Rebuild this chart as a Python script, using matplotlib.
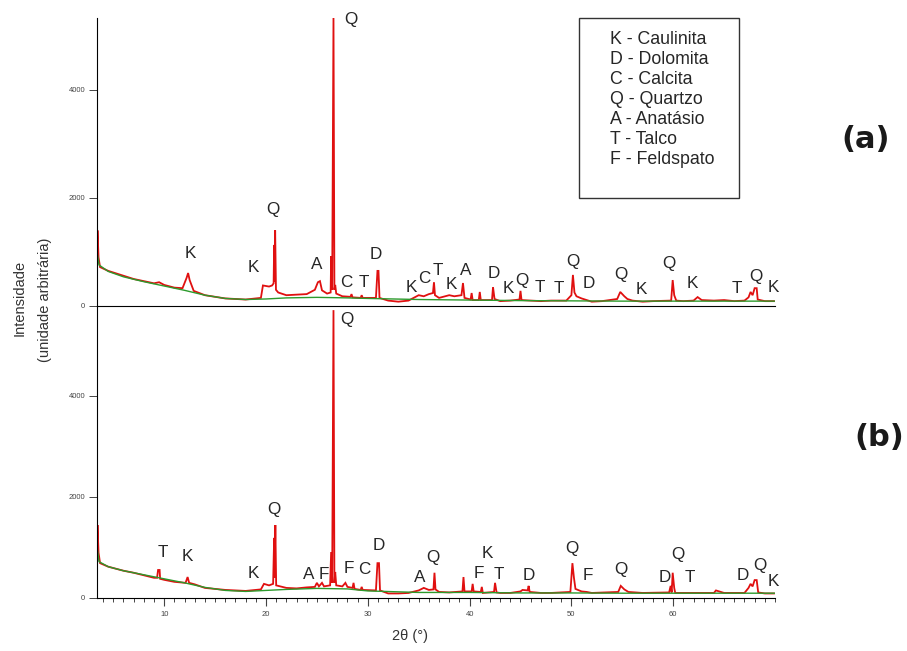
import matplotlib.pyplot as plt
from matplotlib.patches import Rectangle
from matplotlib.ticker import MultipleLocator

plt.rcParams['font.family'] = ['Liberation Sans', 'DejaVu Sans']

# background curve (same 2theta grid for both samples)
bg_theta = [3.4, 3.6, 4.5, 6, 8, 10, 12, 14, 16, 18, 20, 22, 25, 28, 30,
            35, 40, 45, 50, 55, 60, 65, 70]
bg_a = [1000, 760, 640, 540, 450, 370, 290, 200, 140, 120, 130, 150, 160, 150, 140,
        120, 110, 100, 95, 90, 90, 90, 90]
bg_b = [1010, 720, 620, 540, 460, 380, 300, 210, 150, 130, 150, 170, 190, 180, 140,
        110, 110, 100, 100, 95, 95, 95, 95]

# sample (a) diffractogram
theta_a = [3.40, 3.45, 3.55, 3.7, 4.5, 6, 7, 8, 9, 9.5, 10, 11, 11.8, 12.2, 12.35,
           12.5, 12.9, 14, 16, 18, 19.5, 19.7, 20.3, 20.6, 20.75, 20.8, 20.85, 20.9,
           20.98, 21.2, 22, 23, 24, 24.8, 25.1, 25.3, 25.5, 26, 26.35, 26.4, 26.5,
           26.63, 26.72, 26.8, 26.9, 27.5, 28.3, 28.4, 28.5, 29.3, 29.4, 29.5, 30.8,
           30.95, 31.05, 31.15, 32, 33, 34, 34.5, 35, 35.5, 36, 36.4, 36.5, 36.6, 37,
           38, 38.5, 39.2, 39.35, 39.5, 40.1, 40.2, 40.3, 40.9, 41.0, 41.1, 42.2,
           42.3, 42.45, 43, 44, 44.9, 45, 45.1, 46, 47, 48, 49.5, 50.0, 50.15, 50.3,
           50.5, 51, 52, 53, 54.5, 54.8, 55.2, 55.5, 56, 57, 58, 59.8, 59.95, 60.1,
           60.3, 61, 62, 62.4, 62.8, 64, 65, 66, 67, 67.4, 67.6, 67.8, 68.0, 68.2,
           68.3, 69, 69.9]
counts_a = [700, 1400, 900, 720, 650, 560, 500, 460, 420, 440, 390, 340, 330, 520, 610,
            480, 280, 200, 140, 120, 150, 380, 360, 380, 420, 1130, 450, 1400,
            300, 250, 200, 210, 220, 300, 440, 460, 290, 230, 250, 920, 300,
            5330, 300, 390, 230, 180, 170, 220, 160, 150, 200, 150, 150,
            650, 650, 150, 100, 80, 100, 150, 200, 180, 220, 240, 440, 200, 150,
            200, 180, 200, 425, 150, 120, 240, 110, 110, 260, 110, 110,
            350, 130, 90, 100, 120, 280, 110, 100, 90, 100, 100, 200, 575, 250,
            180, 140, 80, 90, 130, 260, 180, 130, 100, 80, 90, 100, 480, 200,
            100, 90, 100, 165, 110, 100, 110, 90, 100, 160, 260, 200, 330, 330,
            120, 90, 90]

# sample (b) diffractogram
theta_b = [3.40, 3.45, 3.55, 3.7, 4.5, 6, 7, 8, 9, 9.3, 9.4, 9.55, 9.6, 10, 11, 12.1,
           12.3, 12.45, 13, 14, 16, 18, 19.5, 19.8, 20.3, 20.7, 20.8, 20.85, 20.92,
           21.0, 22, 23, 24, 24.8, 25, 25.2, 25.5, 25.7, 26.3, 26.4, 26.5, 26.63,
           26.72, 26.8, 26.9, 27.5, 27.8, 28.0, 28.5, 28.6, 28.7, 29.3, 29.4, 29.5,
           30.8, 30.95, 31.1, 31.2, 32, 33, 34, 35, 35.5, 36, 36.45, 36.55, 36.65, 37,
           38, 39.3, 39.4, 39.5, 40.2, 40.3, 40.4, 41.1, 41.2, 41.3, 42.4, 42.5,
           42.65, 43, 44, 45, 45.2, 45.7, 45.8, 45.9, 47, 48, 49.9, 50.1, 50.25,
           50.4, 51, 51.5, 52, 54.6, 54.85, 55.2, 55.6, 57, 59.6, 59.75, 59.85, 59.95,
           60.1, 60.2, 62, 64, 64.2, 65, 67, 67.4, 67.6, 67.8, 68.0, 68.2, 68.35,
           69, 69.9]
counts_b = [700, 1445, 900, 690, 620, 540, 500, 450, 400, 400, 555, 555, 380, 360, 320, 300,
            415, 300, 270, 200, 160, 140, 170, 280, 250, 280, 1190, 400, 1445,
            250, 200, 190, 210, 220, 300, 230, 300, 230, 250, 910, 300, 5700,
            300, 515, 250, 230, 300, 220, 200, 300, 180, 160, 220, 160,
            150, 690, 690, 150, 90, 90, 100, 150, 200, 160, 170, 500, 170, 120,
            110, 130, 415, 130, 130, 280, 130, 120, 220, 100, 120, 300,
            110, 100, 100, 130, 160, 150, 240, 120, 100, 100, 120, 690, 400,
            180, 130, 120, 100, 120, 240, 170, 120, 100, 110, 240, 110, 500,
            200, 100, 100, 100, 150, 100, 100, 200, 280, 230, 355, 355, 110,
            90, 90]

# phase letters: (letter, 2theta, height)
peaks_a = [('K', 12.55, 980), ('K', 18.8, 720), ('Q', 20.7, 1780), ('A', 25.0, 770),
           ('Q', 28.3, 5300), ('C', 27.85, 440), ('T', 29.6, 440), ('D', 30.8, 945),
           ('K', 34.3, 350), ('C', 35.6, 500), ('T', 36.9, 650), ('K', 38.2, 390),
           ('A', 39.6, 650), ('D', 42.4, 610), ('K', 43.8, 315), ('Q', 45.1, 480),
           ('T', 46.9, 350), ('T', 48.8, 315), ('Q', 50.2, 830), ('D', 51.7, 410),
           ('Q', 54.9, 590), ('K', 56.9, 300), ('Q', 59.6, 795), ('K', 61.9, 420),
           ('T', 66.2, 315), ('Q', 68.1, 555), ('K', 69.8, 350)]
peaks_b = [('T', 9.9, 910), ('K', 12.25, 830), ('K', 18.8, 495), ('Q', 20.8, 1760),
           ('A', 24.2, 475), ('F', 25.7, 475), ('Q', 28.0, 5520), ('F', 28.1, 594),
           ('C', 29.7, 555), ('D', 31.1, 1030), ('A', 35.1, 415), ('Q', 36.4, 810),
           ('F', 40.9, 495), ('K', 41.7, 890), ('T', 42.9, 475), ('D', 45.8, 455),
           ('Q', 50.1, 990), ('F', 51.6, 455), ('Q', 54.9, 555), ('D', 59.2, 415),
           ('Q', 60.5, 870), ('T', 61.6, 415), ('D', 66.8, 455), ('Q', 68.5, 635),
           ('K', 69.8, 317)]

theta_ticks = [10, 20, 30, 40, 50, 60]

legend_lines = ['K - Caulinita', 'D - Dolomita', 'C - Calcita', 'Q - Quartzo',
                'A - Anatásio', 'T - Talco', 'F - Feldspato']

W, H = 907, 651
fig = plt.figure(figsize=(W / 100, H / 100), dpi=100)

def frac(x0, y0, x1, y1):
    return [x0 / W, 1 - y1 / H, (x1 - x0) / W, (y1 - y0) / H]

ax_a = fig.add_axes(frac(97, 18, 775, 306))
ax_b = fig.add_axes(frac(97, 306, 775, 598))

red = '#e01010'
green = '#2c9a2c'
txt = '#262626'

for ax, th, ct, bg, peaks, ymax in [(ax_a, theta_a, counts_a, bg_a, peaks_a, 5330),
                                      (ax_b, theta_b, counts_b, bg_b, peaks_b, 5782)]:
    ax.plot(th, ct, color=red, lw=1.3, solid_joinstyle='miter')
    ax.plot(bg_theta, bg, color=green, lw=1.0)
    for letter, x, y in peaks:
        ax.text(x, y, letter, ha='center', va='center', fontsize=12.3,
                color=txt, clip_on=False)
    ax.set_xlim(3.4, 70)
    ax.set_ylim(0, ymax)
    ax.spines['top'].set_visible(False)
    ax.spines['right'].set_visible(False)
    ax.set_yticks([0, 2000, 4000])
    ax.tick_params(axis='y', direction='out', length=5.5, width=0.7,
                   labelsize=5.5, pad=3, colors='#444444')
    ax.patch.set_alpha(0)

ax_a.tick_params(axis='x', bottom=False, labelbottom=False)
ax_b.set_xticks(theta_ticks)
ax_b.xaxis.set_minor_locator(MultipleLocator(1))
ax_b.tick_params(axis='x', which='major', direction='out', length=5.5, width=0.8,
                 labelsize=5.5, pad=4, colors='#444444')
ax_b.tick_params(axis='x', which='minor', direction='out', length=3, width=0.7,
                 colors='#444444')

fig.text(20 / W, 1 - 298 / H, 'Intensidade', rotation=90, ha='center', va='center',
         fontsize=10.5, color='#333333')
fig.text(45 / W, 1 - 300 / H, '(unidade arbitrária)', rotation=90, ha='center',
         va='center', fontsize=10.5, color='#333333')
fig.text(410 / W, 1 - 636 / H, '2θ (°)', ha='center', va='center', fontsize=10.5,
         color='#333333')

fig.text(866 / W, 1 - 140 / H, '(a)', ha='center', va='center', fontsize=22,
         fontweight='bold', family='DejaVu Sans', color='#1a1a1a')
fig.text(879 / W, 1 - 438 / H, '(b)', ha='center', va='center', fontsize=22,
         fontweight='bold', family='DejaVu Sans', color='#1a1a1a')

fig.patches.append(Rectangle((579 / W, 1 - 198 / H), 160 / W, 180 / H,
                             transform=fig.transFigure, fill=False,
                             edgecolor='#333333', lw=1.0))
for i, line in enumerate(legend_lines):
    fig.text(610 / W, 1 - (40 + 20 * i) / H, line, ha='left', va='center',
             fontsize=12.8, color=txt)

fig.savefig('out.png', dpi=100)
